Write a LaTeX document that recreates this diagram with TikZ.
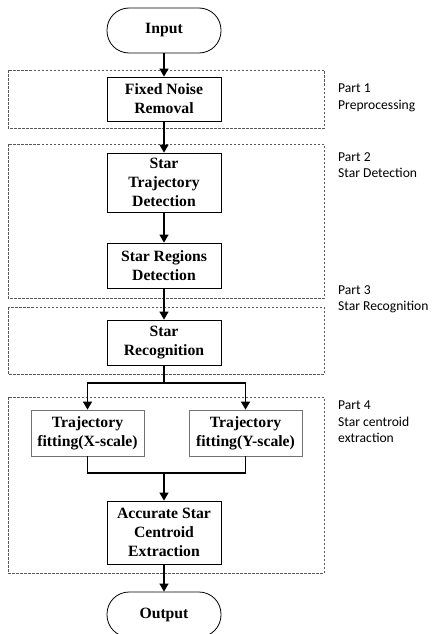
\documentclass[tikz,border=0pt]{standalone}
\usepackage{fontspec}
\setmainfont{Liberation Serif}
\newfontfamily\sidefont{Carlito}
\usetikzlibrary{arrows.meta}
\begin{document}
\begin{tikzpicture}[x=1pt,y=-1pt,
  proc/.style={draw=black, line width=0.8pt, fill=white, align=center, inner sep=0pt,
    font=\fontsize{15.7}{19}\selectfont\bfseries},
  grayproc/.style={proc, draw=black!55},
  term/.style={proc, rounded corners=22pt},
  arr/.style={line width=1.3pt, -{Triangle[length=8pt,width=9pt]}},
  ln/.style={line width=1.3pt},
  dashbox/.style={draw=black!65, line width=0.6pt, dash pattern=on 2.5pt off 1.5pt},
  side/.style={anchor=north west, align=left, inner sep=0pt,
    font=\sidefont\fontsize{13.6}{16.3}\selectfont}]
\useasboundingbox (0,0) rectangle (431,634);
\clip (0,0) rectangle (431,634);
% dashed part boxes
\draw[dashbox] (8,70) rectangle (324,128);
\draw[dashbox] (8,144) rectangle (324,298);
\draw[dashbox] (8,307) rectangle (324,374);
\draw[dashbox] (8,397) rectangle (324,573);
% side labels
\node[side] (l1) at (338,84) {Part 1\\Preprocessing};
\node[side] (l2) at (338,152) {Part 2\\Star Detection};
\node[side] (l3) at (338,285) {Part 3\\Star Recognition};
\node[side] (l4) at (338,401) {Part 4\\Star centroid\\extraction};
% nodes
\node[term, minimum width=114pt, minimum height=45pt] (in) at (164,30.5) {Input};
\node[proc, minimum width=114pt, minimum height=44pt] (fnr) at (164,99) {Fixed Noise\\Removal};
\node[proc, minimum width=114pt, minimum height=59pt] (std) at (164,182.5) {Star\\Trajectory\\Detection};
\node[proc, minimum width=114pt, minimum height=45pt] (srd) at (164,265.5) {Star Regions\\Detection};
\node[proc, minimum width=114pt, minimum height=45pt] (sr) at (164,342.5) {Star\\Recognition};
\node[grayproc, minimum width=113pt, minimum height=46pt] (tx) at (87.5,433) {Trajectory\\fitting(X-scale)};
\node[grayproc, minimum width=113pt, minimum height=46pt] (ty) at (245.5,433) {Trajectory\\fitting(Y-scale)};
\node[proc, minimum width=114pt, minimum height=63pt] (acc) at (164,532.5) {Accurate Star\\Centroid\\Extraction};
\node[term, minimum width=114pt, minimum height=45pt] (out) at (164,614.5) {Output};
\coordinate (br) at (164,383);
\coordinate (mg) at (164,473);
% connectors
\draw[arr] (in) -- (fnr);
\draw[arr] (fnr) -- (std);
\draw[arr] (std) -- (srd);
\draw[arr] (srd) -- (sr);
\draw[ln] (sr.south) -- (br);
\draw[arr] (br) -| (tx.north);
\draw[arr] (br) -| (ty.north);
\draw[ln] (tx.south) |- (mg);
\draw[ln] (ty.south) |- (mg);
\draw[arr] (mg) -- (acc.north);
\draw[arr] (acc) -- (out);
\end{tikzpicture}
\end{document}
